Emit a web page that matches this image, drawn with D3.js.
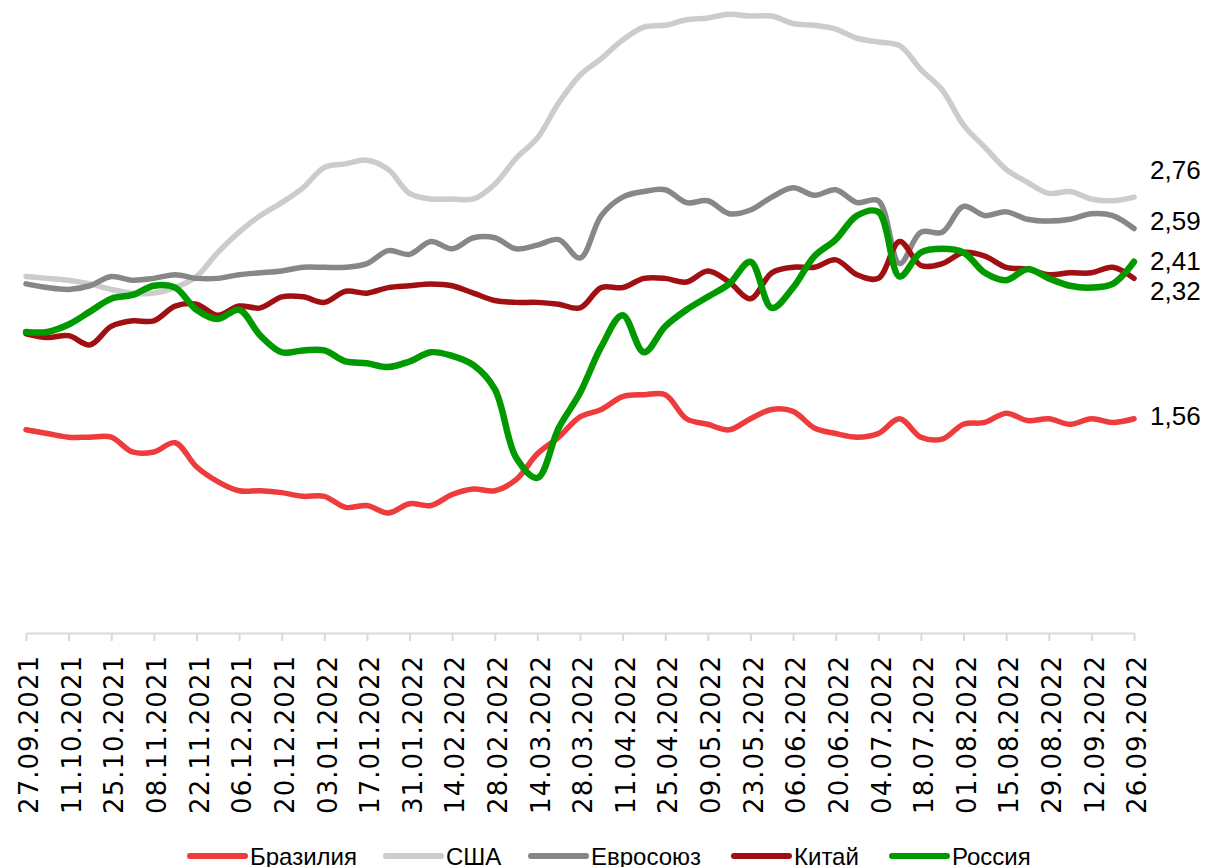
<!DOCTYPE html>
<html>

<head>
    <meta charset="utf-8" />
    <title>Индексы</title>
    <style>
        body { margin: 0; background: #fff; }
        svg { display: block; }
    </style>
</head>

<body>
    <svg width=1209 height=867></svg>
</body>

<script src="https://cdn.jsdelivr.net/npm/d3@7"></script>
<script>

    // weekly dates
    var dates = [
        '27.09.2021', '04.10.2021', '11.10.2021', '18.10.2021', '25.10.2021', '01.11.2021',
        '08.11.2021', '15.11.2021', '22.11.2021', '29.11.2021', '06.12.2021', '13.12.2021',
        '20.12.2021', '27.12.2021', '03.01.2022', '10.01.2022', '17.01.2022', '24.01.2022',
        '31.01.2022', '07.02.2022', '14.02.2022', '21.02.2022', '28.02.2022', '07.03.2022',
        '14.03.2022', '21.03.2022', '28.03.2022', '04.04.2022', '11.04.2022', '18.04.2022',
        '25.04.2022', '02.05.2022', '09.05.2022', '16.05.2022', '23.05.2022', '30.05.2022',
        '06.06.2022', '13.06.2022', '20.06.2022', '27.06.2022', '04.07.2022', '11.07.2022',
        '18.07.2022', '25.07.2022', '01.08.2022', '08.08.2022', '15.08.2022', '22.08.2022',
        '29.08.2022', '05.09.2022', '12.09.2022', '19.09.2022', '26.09.2022'
    ];

    var tickLabels = [
        '27.09.2021', '11.10.2021', '25.10.2021', '08.11.2021', '22.11.2021', '06.12.2021',
        '20.12.2021', '03.01.2022', '17.01.2022', '31.01.2022', '14.02.2022', '28.02.2022',
        '14.03.2022', '28.03.2022', '11.04.2022', '25.04.2022', '09.05.2022', '23.05.2022',
        '06.06.2022', '20.06.2022', '04.07.2022', '18.07.2022', '01.08.2022', '15.08.2022',
        '29.08.2022', '12.09.2022', '26.09.2022'
    ];

    var brazil = [1.50, 1.48, 1.46, 1.46, 1.46, 1.38, 1.38, 1.43, 1.30, 1.22, 1.17, 1.17, 1.16,
        1.14, 1.14, 1.08, 1.09, 1.05, 1.10, 1.09, 1.15, 1.18, 1.17, 1.23, 1.37, 1.46, 1.57,
        1.61, 1.68, 1.69, 1.69, 1.56, 1.53, 1.50, 1.56, 1.61, 1.60, 1.51, 1.48, 1.46, 1.48,
        1.56, 1.46, 1.45, 1.53, 1.54, 1.59, 1.55, 1.56, 1.53, 1.56, 1.54, 1.56];

    var usa = [2.33, 2.32, 2.31, 2.29, 2.26, 2.24, 2.24, 2.27, 2.33, 2.46, 2.57, 2.66, 2.73,
        2.81, 2.92, 2.94, 2.96, 2.91, 2.78, 2.75, 2.75, 2.75, 2.83, 2.97, 3.08, 3.27, 3.42,
        3.51, 3.61, 3.68, 3.69, 3.72, 3.73, 3.75, 3.74, 3.74, 3.70, 3.69, 3.67, 3.62, 3.60,
        3.58, 3.45, 3.34, 3.15, 3.03, 2.91, 2.84, 2.78, 2.79, 2.75, 2.74, 2.76];

    var eu = [2.29, 2.27, 2.26, 2.28, 2.33, 2.31, 2.32, 2.34, 2.32, 2.32, 2.34, 2.35, 2.36,
        2.38, 2.38, 2.38, 2.40, 2.47, 2.45, 2.52, 2.48, 2.54, 2.54, 2.48, 2.50, 2.53, 2.43,
        2.66, 2.76, 2.79, 2.80, 2.73, 2.74, 2.67, 2.69, 2.76, 2.81, 2.77, 2.80, 2.73, 2.74,
        2.40, 2.57, 2.57, 2.71, 2.66, 2.68, 2.64, 2.63, 2.64, 2.67, 2.66, 2.59];

    var china = [2.02, 2.00, 2.01, 1.96, 2.06, 2.09, 2.09, 2.17, 2.18, 2.12, 2.17, 2.16, 2.22,
        2.22, 2.19, 2.25, 2.24, 2.27, 2.28, 2.29, 2.28, 2.24, 2.20, 2.19, 2.19, 2.18, 2.16,
        2.27, 2.27, 2.32, 2.32, 2.30, 2.36, 2.30, 2.21, 2.35, 2.38, 2.38, 2.42, 2.34, 2.32,
        2.52, 2.39, 2.40, 2.46, 2.44, 2.38, 2.37, 2.34, 2.35, 2.35, 2.38, 2.32];

    var russia = [2.03, 2.03, 2.07, 2.14, 2.21, 2.23, 2.28, 2.27, 2.15, 2.10, 2.15, 2.01, 1.92,
        1.93, 1.93, 1.87, 1.86, 1.84, 1.87, 1.92, 1.90, 1.85, 1.72, 1.35, 1.24, 1.51, 1.70,
        1.95, 2.12, 1.92, 2.06, 2.15, 2.22, 2.29, 2.41, 2.16, 2.27, 2.44, 2.53, 2.66, 2.68,
        2.33, 2.46, 2.48, 2.46, 2.35, 2.31, 2.37, 2.32, 2.28, 2.27, 2.29, 2.41];

    var names = ['Бразилия', 'США', 'Евросоюз', 'Китай', 'Россия'];

    var series = [
        { name: names[0], values: brazil, color: '#ee3b3b', width: 5.5, dy: -3 },
        { name: names[1], values: usa, color: '#cccccc', width: 5.5, dy: -27 },
        { name: names[2], values: eu, color: '#878787', width: 5.5, dy: -8 },
        { name: names[3], values: china, color: '#a00f12', width: 5.5, dy: 13 },
        { name: names[4], values: russia, color: '#009a00', width: 6.5, dy: -1 }
    ];

    var svg = d3.select('svg');

    var x = d3.scalePoint()
        .domain(dates)
        .range([26, 1134]);

    var y = d3.scaleLinear()
        .domain([0.4, 3.8])
        .range([633, 5]);

    // x axis
    var axis = svg.append('g')
        .attr('transform', 'translate(0,633)')
        .call(d3.axisBottom(x)
            .tickValues(tickLabels)
            .tickSizeInner(8)
            .tickSizeOuter(0));

    axis.select('.domain')
        .attr('stroke', '#d9d9d9')
        .attr('stroke-width', 2);

    axis.selectAll('.tick line')
        .attr('stroke', '#d9d9d9')
        .attr('stroke-width', 2);

    axis.selectAll('.tick text')
        .attr('transform', 'rotate(-90)')
        .attr('x', -22)
        .attr('y', 0)
        .attr('dy', '0.45em')
        .attr('text-anchor', 'end')
        .attr('fill', '#000')
        .style('font-family', '"DejaVu Sans", sans-serif')
        .style('font-size', '26px')
        .style('letter-spacing', '1px');

    // lines
    var line = d3.line()
        .x(function (d, i) { return x(dates[i]); })
        .y(function (d) { return y(d); })
        .curve(d3.curveCatmullRom);

    svg.append('g')
        .selectAll('path')
        .data(series)
        .enter()
        .append('path')
        .attr('d', function (d) { return line(d.values); })
        .attr('fill', 'none')
        .attr('stroke', function (d) { return d.color; })
        .attr('stroke-width', function (d) { return d.width; })
        .attr('stroke-linecap', 'round')
        .attr('stroke-linejoin', 'round');

    // end labels
    var last = dates[dates.length - 1];
    svg.append('g')
        .selectAll('text')
        .data(series)
        .enter()
        .append('text')
        .attr('x', x(last) + 16)
        .attr('y', function (d) { return y(d.values[d.values.length - 1]) + d.dy; })
        .attr('dy', '0.35em')
        .style('font-family', '"Liberation Sans", Arial, sans-serif')
        .style('font-size', '26px')
        .text(function (d) {
            return d3.format('.2f')(d.values[d.values.length - 1]).replace('.', ',');
        });

    // legend
    var legendX = [190, 386, 531, 734, 892];
    var legend = svg.append('g')
        .selectAll('g')
        .data(series)
        .enter()
        .append('g')
        .attr('transform', function (d, i) { return 'translate(' + legendX[i] + ',856)'; });

    legend.append('line')
        .attr('x1', 0)
        .attr('x2', 55)
        .attr('stroke', function (d) { return d.color; })
        .attr('stroke-width', 6)
        .attr('stroke-linecap', 'round');

    legend.append('text')
        .attr('x', 60)
        .attr('y', 9)
        .style('font-family', '"Liberation Sans", Arial, sans-serif')
        .style('font-size', '24px')
        .text(function (d) { return d.name; });

</script>

</html>
